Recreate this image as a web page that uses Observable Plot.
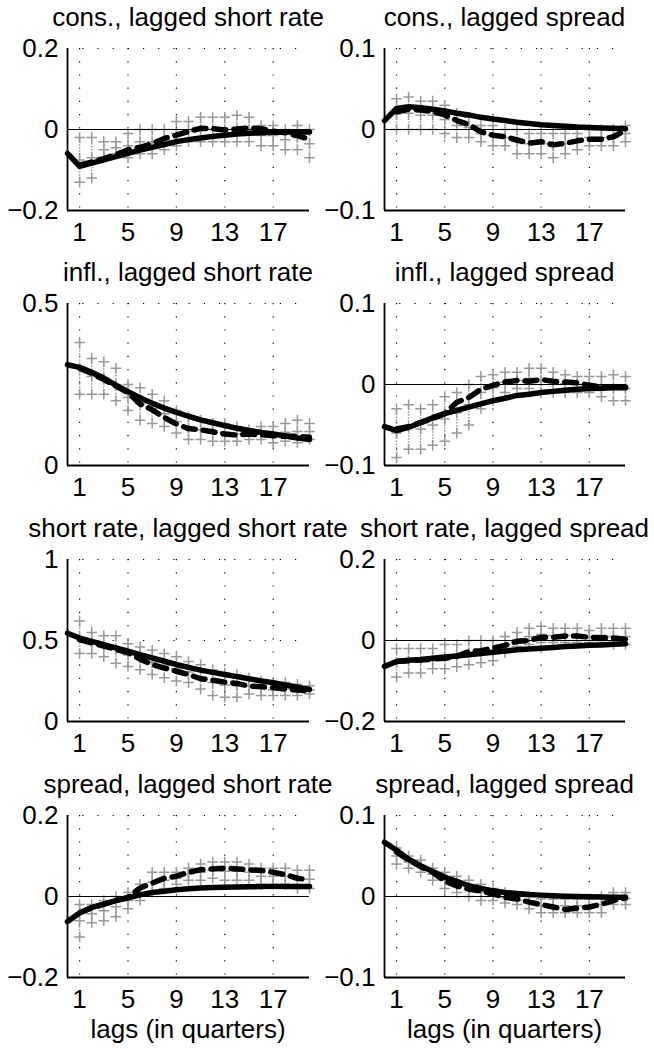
<!DOCTYPE html>
<html>
<head>
<meta charset="utf-8">
<script src="https://cdn.jsdelivr.net/npm/d3@7"></script>
<script src="https://cdn.jsdelivr.net/npm/@observablehq/plot@0.6"></script>
<style>
  html, body { margin: 0; padding: 0; background: #fff; }
  #root { position: relative; width: 654px; height: 1049px; overflow: hidden;
          font-family: "Liberation Sans", Arial, Helvetica, sans-serif; color: #000; }
  .title, .xlabel { position: absolute; font-size: 26px; line-height: 1; white-space: nowrap;
                    transform: translateX(-50%); }
  .panel { position: absolute; }
  .panel svg { overflow: visible; }
</style>
</head>
<body>
<div id="root"></div>
<script>
// ---- data ----
const lagsSolid = d3.range(0, 21);   // 0..20
const lagsSample = d3.range(1, 21);  // 1..20
const xTicks = [1, 5, 9, 13, 17];

const titles = [
  "cons., lagged short rate", "cons., lagged spread",
  "infl., lagged short rate", "infl., lagged spread",
  "short rate, lagged short rate", "short rate, lagged spread",
  "spread, lagged short rate", "spread, lagged spread"
];
const yDomains = [[-0.2, 0.2], [-0.1, 0.1], [0, 0.5], [-0.1, 0.1], [0, 1], [-0.2, 0.2], [-0.2, 0.2], [-0.1, 0.1]];
const yTicks = [[-0.2, 0, 0.2], [-0.1, 0, 0.1], [0, 0.5], [-0.1, 0, 0.1], [0, 0.5, 1], [-0.2, 0, 0.2], [-0.2, 0, 0.2], [-0.1, 0, 0.1]];
const xLabel = "lags (in quarters)";

// solid line (lags 0..20)
const consShortSolid = [-0.059, -0.091, -0.083, -0.075, -0.067, -0.059, -0.051, -0.044, -0.037, -0.030, -0.025, -0.021, -0.017, -0.014, -0.011, -0.009, -0.008, -0.007, -0.006, -0.006, -0.006];
const consSpreadSolid = [0.011, 0.026, 0.028, 0.027, 0.025, 0.023, 0.020, 0.018, 0.015, 0.013, 0.011, 0.009, 0.0075, 0.006, 0.005, 0.004, 0.003, 0.0025, 0.002, 0.0015, 0.001];
const inflShortSolid = [0.311, 0.303, 0.288, 0.270, 0.248, 0.228, 0.209, 0.192, 0.177, 0.164, 0.152, 0.141, 0.132, 0.123, 0.115, 0.108, 0.102, 0.097, 0.091, 0.085, 0.080];
const inflSpreadSolid = [-0.052, -0.057, -0.053, -0.047, -0.041, -0.036, -0.032, -0.028, -0.024, -0.020, -0.017, -0.0135, -0.012, -0.010, -0.0085, -0.007, -0.006, -0.005, -0.0045, -0.004, -0.004];
const rateShortSolid = [0.545, 0.515, 0.495, 0.475, 0.455, 0.434, 0.413, 0.393, 0.372, 0.352, 0.334, 0.317, 0.303, 0.290, 0.277, 0.264, 0.251, 0.239, 0.225, 0.211, 0.198];
const rateSpreadSolid = [-0.064, -0.052, -0.049, -0.047, -0.044, -0.041, -0.038, -0.035, -0.032, -0.029, -0.026, -0.023, -0.021, -0.019, -0.017, -0.015, -0.0135, -0.012, -0.011, -0.0095, -0.008];
const sprShortSolid = [-0.062, -0.041, -0.027, -0.019, -0.010, -0.003, 0.004, 0.010, 0.013, 0.0165, 0.019, 0.021, 0.022, 0.023, 0.0235, 0.024, 0.0245, 0.025, 0.025, 0.025, 0.025];
const sprSpreadSolid = [0.067, 0.057, 0.046, 0.038, 0.031, 0.024, 0.0186, 0.0133, 0.010, 0.007, 0.005, 0.0037, 0.0025, 0.0017, 0.001, 0.0004, 0.0, -0.0004, -0.0007, -0.001, -0.001];

// dashed line (lags 1..20)
const consShortDashed = [-0.088, -0.080, -0.072, -0.062, -0.050, -0.044, -0.035, -0.022, -0.014, -0.005, 0.003, 0.002, -0.001, 0.001, 0.004, 0.002, -0.004, -0.008, -0.015, -0.024];
const consSpreadDashed = [0.022, 0.025, 0.024, 0.022, 0.018, 0.011, 0.006, -0.003, -0.007, -0.009, -0.013, -0.017, -0.015, -0.019, -0.017, -0.014, -0.012, -0.012, -0.009, -0.001];
const inflShortDashed = [0.300, 0.284, 0.265, 0.245, 0.225, 0.190, 0.172, 0.148, 0.128, 0.114, 0.110, 0.104, 0.097, 0.094, 0.097, 0.095, 0.092, 0.090, 0.090, 0.087];
const inflSpreadDashed = [-0.055, -0.052, -0.047, -0.042, -0.036, -0.022, -0.016, -0.006, -0.001, 0.003, 0.005, 0.004, 0.006, 0.004, 0.003, 0.002, -0.001, -0.003, -0.003, -0.003];
const rateShortDashed = [0.505, 0.485, 0.465, 0.445, 0.425, 0.385, 0.352, 0.330, 0.310, 0.290, 0.264, 0.255, 0.243, 0.235, 0.219, 0.214, 0.209, 0.200, 0.194, 0.188];
const rateSpreadDashed = [-0.052, -0.050, -0.048, -0.046, -0.044, -0.039, -0.027, -0.025, -0.019, -0.012, -0.002, 0.000, 0.008, 0.008, 0.011, 0.011, 0.008, 0.007, 0.006, 0.003];
const sprShortDashed = [-0.040, -0.028, -0.019, -0.010, -0.002, 0.021, 0.033, 0.045, 0.050, 0.060, 0.066, 0.068, 0.070, 0.068, 0.066, 0.064, 0.060, 0.054, 0.045, 0.041];
const sprSpreadDashed = [0.055, 0.045, 0.037, 0.030, 0.019, 0.013, 0.009, 0.007, 0.003, -0.001, -0.003, -0.007, -0.010, -0.013, -0.016, -0.0145, -0.013, -0.0095, -0.005, -0.002];

// grey sample cloud, upper and lower marks (lags 1..20)
const consShortHi = [-0.02, -0.02, -0.03, -0.03, -0.01, 0.0, 0.0, 0.0, 0.02, 0.02, 0.03, 0.03, 0.03, 0.035, 0.03, 0.01, 0.01, 0.0, 0.01, 0.0];
const consShortLo = [-0.13, -0.12, -0.07, -0.06, -0.07, -0.06, -0.06, -0.05, -0.04, -0.03, -0.03, -0.03, -0.03, -0.03, -0.03, -0.04, -0.04, -0.05, -0.05, -0.07];
const consSpreadHi = [0.038, 0.04, 0.035, 0.035, 0.03, 0.02, 0.015, 0.005, 0.005, 0.0, 0.0, -0.005, -0.005, -0.005, -0.005, -0.005, 0.0, 0.0, 0.0, 0.005];
const consSpreadLo = [0.0, 0.0, 0.0, 0.0, -0.005, -0.01, -0.01, -0.015, -0.02, -0.02, -0.03, -0.03, -0.03, -0.035, -0.03, -0.025, -0.02, -0.02, -0.02, -0.015];
const inflShortHi = [0.38, 0.33, 0.32, 0.30, 0.25, 0.24, 0.22, 0.20, 0.17, 0.15, 0.14, 0.13, 0.13, 0.12, 0.11, 0.12, 0.12, 0.13, 0.14, 0.13];
const inflShortLo = [0.22, 0.22, 0.22, 0.20, 0.17, 0.14, 0.13, 0.12, 0.10, 0.08, 0.08, 0.075, 0.075, 0.075, 0.08, 0.08, 0.07, 0.075, 0.07, 0.08];
const inflSpreadHi = [-0.03, -0.025, -0.03, -0.025, -0.015, -0.01, 0.0, 0.01, 0.012, 0.015, 0.015, 0.02, 0.02, 0.015, 0.012, 0.01, 0.01, 0.01, 0.012, 0.01];
const inflSpreadLo = [-0.09, -0.08, -0.08, -0.075, -0.07, -0.06, -0.05, -0.03, -0.02, -0.01, -0.005, -0.005, -0.01, -0.01, -0.01, -0.01, -0.01, -0.015, -0.02, -0.02];
const rateShortHi = [0.62, 0.55, 0.53, 0.53, 0.48, 0.46, 0.44, 0.42, 0.40, 0.37, 0.35, 0.32, 0.30, 0.29, 0.27, 0.25, 0.23, 0.24, 0.23, 0.22];
const rateShortLo = [0.42, 0.42, 0.40, 0.36, 0.34, 0.32, 0.29, 0.27, 0.25, 0.24, 0.20, 0.16, 0.15, 0.15, 0.17, 0.16, 0.16, 0.16, 0.16, 0.17];
const rateSpreadHi = [-0.02, -0.02, -0.02, -0.02, -0.01, -0.01, 0.0, 0.0, 0.0, 0.01, 0.02, 0.03, 0.035, 0.03, 0.03, 0.03, 0.025, 0.03, 0.03, 0.03];
const rateSpreadLo = [-0.09, -0.08, -0.08, -0.07, -0.07, -0.065, -0.06, -0.055, -0.05, -0.03, -0.015, -0.01, -0.005, -0.005, -0.005, -0.005, -0.005, -0.005, -0.01, -0.01];
const sprShortHi = [-0.02, -0.02, -0.01, 0.0, 0.01, 0.03, 0.06, 0.06, 0.06, 0.07, 0.08, 0.085, 0.085, 0.085, 0.08, 0.07, 0.07, 0.07, 0.065, 0.065];
const sprShortLo = [-0.10, -0.065, -0.06, -0.05, -0.03, -0.01, 0.01, 0.02, 0.03, 0.04, 0.04, 0.045, 0.04, 0.04, 0.04, 0.03, 0.03, 0.03, 0.02, 0.02];
const sprSpreadHi = [0.06, 0.05, 0.045, 0.035, 0.03, 0.025, 0.02, 0.015, 0.01, 0.005, 0.0, 0.0, -0.003, -0.003, -0.003, -0.003, -0.003, 0.0, 0.005, 0.005];
const sprSpreadLo = [0.04, 0.035, 0.03, 0.02, 0.01, 0.005, 0.0, -0.005, -0.005, -0.008, -0.01, -0.015, -0.02, -0.02, -0.02, -0.02, -0.02, -0.02, -0.01, -0.01];

const solids = [consShortSolid, consSpreadSolid, inflShortSolid, inflSpreadSolid, rateShortSolid, rateSpreadSolid, sprShortSolid, sprSpreadSolid];
const dasheds = [consShortDashed, consSpreadDashed, inflShortDashed, inflSpreadDashed, rateShortDashed, rateSpreadDashed, sprShortDashed, sprSpreadDashed];
const his = [consShortHi, consSpreadHi, inflShortHi, inflSpreadHi, rateShortHi, rateSpreadHi, sprShortHi, sprSpreadHi];
const los = [consShortLo, consSpreadLo, inflShortLo, inflSpreadLo, rateShortLo, rateSpreadLo, sprShortLo, sprSpreadLo];

// ---- layout ----
const root = document.getElementById("root");
const rowTops = [48, 303, 559, 815];
const plotH = 162;
const colLeft = [0, 327];
const colMarginL = [67, 57];
const colMarginR = [18, 29];
const svgW = 327;
const mTop = 20, mBottom = 44;
const fontFam = '"Liberation Sans", Arial, Helvetica, sans-serif';
const yFmt = d => d === 0 ? "0" : (d < 0 ? "\u2212" : "") + String(Math.abs(d));

for (let i = 0; i < 8; i++) {
  const row = Math.floor(i / 2), col = i % 2;
  const [y0, y1] = yDomains[i];
  const solid = lagsSolid.map((l, k) => ({lag: l, v: solids[i][k]}));
  const dashed = lagsSample.map((l, k) => ({lag: l, v: dasheds[i][k]}));
  const cloud = lagsSample.map((l, k) => ({lag: l, hi: his[i][k], lo: los[i][k]}));
  const cloudPts = cloud.flatMap(d => [{lag: d.lag, v: d.hi}, {lag: d.lag, v: d.lo}, {lag: d.lag, v: (d.hi + d.lo) / 2}]);

  const chart = Plot.plot({
    width: svgW,
    height: mTop + plotH + mBottom,
    marginTop: mTop,
    marginBottom: mBottom,
    marginLeft: colMarginL[col],
    marginRight: colMarginR[col],
    x: {domain: [0, 20]},
    y: {domain: [y0, y1]},
    style: {fontFamily: fontFam, fontSize: "26px", color: "#000", background: "transparent", overflow: "visible"},
    marks: [
      Plot.gridX(xTicks, {stroke: "#000", strokeOpacity: 1, strokeWidth: 1.2, strokeDasharray: "1.2,12"}),
      Plot.gridY(yTicks[i], {stroke: "#000", strokeOpacity: 1, strokeWidth: 1.2, strokeDasharray: "1.2,14"}),
      Plot.ruleX(cloud, {x: "lag", y1: "lo", y2: "hi", stroke: "#999", strokeWidth: 1.5, strokeDasharray: "1.5,1.5"}),
      Plot.dot(cloudPts, {x: "lag", y: "v", symbol: "plus", r: 3.5, stroke: "#999", strokeWidth: 1.5}),
      Plot.ruleY([0], {stroke: "#000", strokeWidth: 1.2}),
      Plot.line(dashed, {x: "lag", y: "v", stroke: "#000", strokeWidth: 5.5, strokeDasharray: "12,8"}),
      Plot.line(solid, {x: "lag", y: "v", stroke: "#000", strokeWidth: 5.5}),
      Plot.ruleX([0], {stroke: "#000", strokeWidth: 1.8}),
      Plot.ruleY([y0], {stroke: "#000", strokeWidth: 1.8}),
      Plot.axisX({ticks: xTicks, tickSize: 0, tickPadding: 12, tickFormat: d => String(d), label: null}),
      Plot.axisY({ticks: yTicks[i], tickSize: 0, tickPadding: 9, tickFormat: yFmt, label: null})
    ]
  });
  const wrap = document.createElement("div");
  wrap.className = "panel";
  wrap.style.left = colLeft[col] + "px";
  wrap.style.top = (rowTops[row] - mTop) + "px";
  wrap.appendChild(chart);
  root.appendChild(wrap);

  const plotCenter = colLeft[col] + colMarginL[col] + (svgW - colMarginL[col] - colMarginR[col]) / 2;
  const t = document.createElement("div");
  t.className = "title";
  t.textContent = titles[i];
  t.style.left = plotCenter + "px";
  t.style.top = (rowTops[row] - 44) + "px";
  root.appendChild(t);

  if (row === 3) {
    const xl = document.createElement("div");
    xl.className = "xlabel";
    xl.textContent = xLabel;
    xl.style.left = plotCenter + "px";
    xl.style.top = (rowTops[row] + plotH + 39) + "px";
    root.appendChild(xl);
  }
}
</script>
</body>
</html>
